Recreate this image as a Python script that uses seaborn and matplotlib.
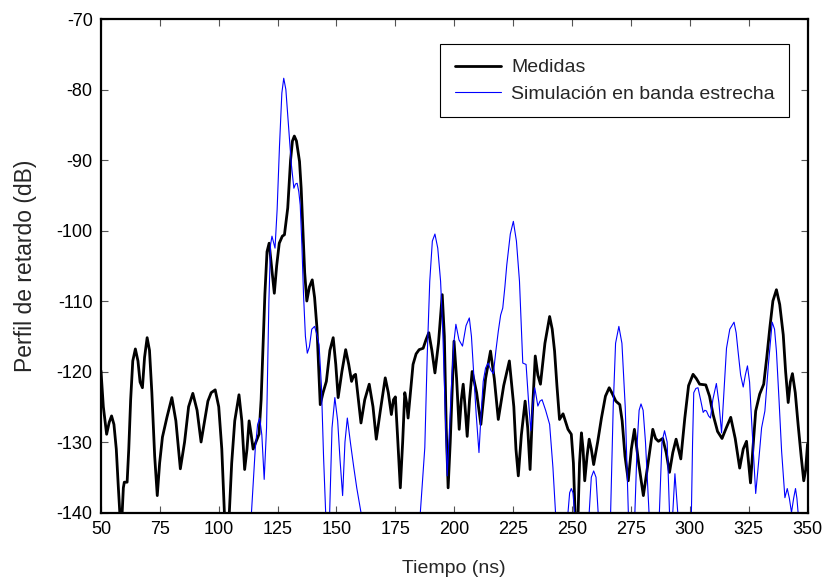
import numpy as np
import pandas as pd
import matplotlib
matplotlib.use("Agg")
import matplotlib.pyplot as plt
import seaborn as sns

# ---- data ----
t_medidas = [50, 51, 52.4, 53.5, 54.5, 55.5, 56.5, 57.3, 58.0, 58.5, 59.0, 59.5, 59.9, 61.1, 61.8, 62.6,
             63.5, 64.6, 65.7, 66.6, 67.6, 68.5, 69.6, 70.6, 71.6, 72.8, 73.9, 74.9, 76.1, 78, 80.1, 81.8,
             83.7, 85.5, 87.2, 89.0, 90.8, 92.5, 94, 95.4, 96.8, 98.5, 100, 101.3, 102.4, 103.5, 104.5,
             105.5, 106.8, 108.6, 109.8, 111, 112, 112.9, 113.8, 114.6, 115.8, 117.1, 118, 118.6, 119.6,
             120.5, 121.4, 122.4, 123.6, 124.6, 125.7, 127, 127.9, 129.3, 130.5, 131.3, 132.1, 133, 134.3,
             135, 135.7, 136.5, 137.4, 138.5, 139.7, 140.7, 141.7, 142.5, 143.1, 144.3, 145.7, 147.2, 148.6,
             149.7, 150.7, 152.3, 153.9, 155.2, 156.4, 157.3, 158.1, 159.3, 160.4, 162, 163.9, 165.5, 166.9,
             168.6, 170.7, 172, 173.3, 174.2, 175, 175.9, 177.1, 178.1, 179, 179.8, 180.4, 181.4, 182.5,
             183.8, 185.1, 186.8, 188, 189.2, 190.5, 191.8, 193.3, 194.9, 195.8, 196.6, 197.4, 198.3, 199.9,
             201, 202.1, 203, 203.8, 204.6, 205.5, 206.5, 207.6, 209.5, 211.3, 213.3, 215.4, 217, 218.7,
             221, 223.4, 225.3, 226.2, 227.2, 228.5, 230.1, 231.2, 232.2, 233.3, 234.4, 235.5, 236.6, 238.5,
             240.5, 241.6, 242.6, 243.6, 244.7, 246.2, 248.3, 249.7, 250.6, 251.3, 251.8, 252.6, 253.2, 254,
             254.7, 255.4, 256.4, 257.3, 258.2, 259.2, 260.9, 262.5, 264.2, 265.8, 267.2, 268.6, 270.3,
             271.3, 272.5, 273.9, 275.2, 276.5, 278.3, 280.3, 282.3, 284.3, 285.5, 286.7, 288.5, 290, 291.4,
             292.8, 294.2, 295.2, 296.2, 297.9, 299.5, 301.4, 302.8, 304.2, 306.8, 308.4, 309.9, 311.8,
             313.7, 315.5, 317.4, 319.3, 321.2, 322.7, 324.1, 325, 325.8, 326.8, 328, 329.7, 331.4, 332.7,
             334, 335.3, 336.8, 338.2, 339.7, 340.7, 341.8, 342.7, 343.6, 344.8, 346, 347.3, 348.4, 349.2, 350]
v_medidas = [-119.9, -125, -128.9, -127.2, -126.3, -127.5, -131, -136, -140, -143, -140, -136.5, -135.7, -135.7,
             -131, -124, -118.5, -116.8, -118.5, -121.5, -122.3, -118, -115.2, -117, -123, -132, -137.6, -133,
             -129.3, -126.5, -123.7, -127, -133.8, -130, -125, -123.1, -125.5, -130, -127, -124.2, -123,
             -122.6, -125, -131, -140, -145, -140, -133, -127, -123.3, -127, -133.9, -131, -127, -129, -131,
             -130, -128.9, -124, -118.5, -109, -103, -101.8, -105, -108.9, -105, -101.8, -100.8, -100.6,
             -96.8, -90, -87.3, -86.6, -87.3, -90.2, -94, -99.7, -106, -110.0, -108, -107.0, -109.5, -113.8,
             -120, -124.7, -123, -121.4, -117, -115.2, -119, -123.7, -120, -116.9, -119, -121.4, -120.6,
             -120.4, -124, -127.3, -124, -121.8, -125, -129.6, -125.6, -120.9, -123, -126.1, -124, -123.6,
             -129, -136.5, -130, -123, -124.5, -126.6, -123, -119, -117.5, -116.9, -116.7, -115.5, -114.5,
             -117, -120.2, -116, -109.1, -115, -128, -136.5, -130, -115.7, -121, -128.2, -124, -121.8, -125,
             -129.2, -124, -120, -123, -127.5, -121, -117.1, -121, -126.8, -122, -118.5, -125, -131, -134.8,
             -129, -124.2, -128, -133.9, -125, -117.8, -120.5, -121.8, -116, -112.2, -114, -117.1, -122,
             -126.8, -126, -128.2, -128.9, -133, -140, -143, -140, -133, -128.7, -131, -135.5, -132, -129.6,
             -131, -133.2, -130, -126.6, -123.5, -122.3, -123.2, -124.2, -124.7, -127, -132, -135.5, -131,
             -128.2, -133, -137.6, -133, -128.2, -129.5, -129.9, -129.5, -131.5, -134.3, -131.5, -129.6, -131,
             -132.4, -126.6, -122, -120.4, -121, -121.8, -121.9, -123.5, -126.1, -128.5, -129.5, -128, -126.5,
             -129.5, -133.7, -131, -129.9, -133, -135.8, -131, -125.6, -123.2, -121.8, -118, -113.8, -110,
             -108.4, -110.5, -114.8, -120, -124.4, -121.5, -120.3, -123, -127.5, -132, -135.5, -134, -130.3]

t_simulacion = [112.8, 113.9, 115.5, 116.5, 117.4, 118.3, 119.3, 120.3, 121.3, 122, 122.6, 123.2, 123.9, 124.8,
                125.8, 126.8, 127.6, 128.5, 129.7, 130.8, 131.9, 132.6, 133.3, 134, 134.6, 135.3, 136, 136.8,
                137.6, 138.5, 139.5, 140.7, 141.7, 142.6, 143.6, 144.5, 145.4, 146.2, 147.1, 148.1, 149.3,
                150.5, 151.5, 152.6, 153.6, 154.6, 155.3, 156, 157.3, 158.6, 160.4, 161.5, 184.5, 185.6, 187.5,
                188.5, 189.6, 190.7, 191.8, 193, 194.2, 195.1, 196, 197, 198, 198.9, 199.8, 200.7, 202, 203.5,
                205, 206.4, 207.3, 208.1, 209.3, 210.5, 211.4, 212.3, 213.3, 214.4, 215.5, 216.6, 217.7, 218.7,
                219.7, 220.6, 221.5, 222.3, 223.8, 225.1, 226.4, 227.7, 228.4, 229.1, 230.5, 231.5, 232.5,
                233.4, 234.2, 235.5, 236.4, 237.3, 238.8, 240.5, 241.9, 243, 244, 247.5, 248.3, 249, 249.7,
                250.4, 251.1, 252, 256.5, 257.3, 258.2, 259.2, 260.2, 261.1, 262, 265.5, 266.4, 267.5, 268.5,
                269.9, 271.2, 272.6, 273.9, 274.8, 276, 276.7, 277.7, 278.5, 279.3, 280.2, 281.2, 282.7, 283.5,
                286.4, 287.1, 288.2, 289.3, 290.4, 291.4, 292.1, 292.8, 293.7, 294.9, 295.8, 300, 300.7, 301.2,
                301.7, 302.6, 303.5, 304.6, 305.7, 306.4, 307.1, 308, 308.8, 309.8, 311.3, 312.4, 313.5, 314.5,
                315.6, 317, 318.8, 319.7, 320.5, 321.6, 322.7, 323.6, 324.5, 325.4, 326.2, 327.1, 328, 329.2,
                330.5, 331.9, 333.4, 335, 336, 336.8, 337.9, 339, 340.4, 341.4, 342.3, 343.2, 344.1, 344.9,
                345.5, 346, 347]
v_simulacion = [-150, -140, -131, -127.5, -126.6, -129, -135.3, -128, -110, -102, -100.8, -101.6, -102.5, -97,
                -88, -80.5, -78.4, -80, -85.5, -90.5, -94, -93.4, -93.3, -94.5, -96.4, -102, -109.1, -115,
                -117.4, -116.5, -114, -113.6, -114.8, -116.2, -122, -132, -140, -146, -140, -128, -123.7,
                -127, -132.5, -137.6, -130, -126.6, -128.5, -130.3, -133.5, -136.5, -140, -150, -150, -140,
                -130.8, -118, -107.2, -101.5, -100.5, -102.5, -107.2, -114, -123.7, -134.8, -128, -121.4,
                -116, -113.3, -115.5, -116.4, -113.5, -112.4, -115, -119.5, -126, -131.5, -126, -121.4,
                -119.5, -118.8, -119.8, -120.3, -117, -114.3, -112, -111, -108, -104.9, -100.5, -98.7,
                -101.5, -107.2, -113, -118.8, -119, -124, -128.4, -124.5, -122.3, -124.9, -124.2, -124,
                -125.5, -127.5, -133.6, -140, -150, -150, -140, -137.2, -136.6, -137.2, -140, -150, -150,
                -140, -135, -134.1, -135, -140, -150, -150, -140, -125, -116, -113.6, -116, -125, -140, -150,
                -150, -140, -130, -125.5, -124.6, -125.5, -130, -140, -150, -150, -140, -130, -128.4, -130,
                -140, -150, -140, -134.5, -140, -150, -150, -140, -130, -123, -122.4, -122.3, -124, -125.8,
                -125.5, -125.6, -126.3, -126.6, -124, -121.7, -124.5, -128.7, -123, -116.7, -114, -113,
                -114.5, -117.1, -120.5, -122.2, -120.5, -119.2, -121.5, -126.6, -132, -137.3, -133, -128,
                -125.6, -119, -113, -114, -117.1, -124, -131.3, -137.9, -136.6, -138, -140, -138, -136.6,
                -138, -140, -150]

x_ticks = [50, 75, 100, 125, 150, 175, 200, 225, 250, 275, 300, 325, 350]
y_ticks = [-140, -130, -120, -110, -100, -90, -80, -70]
label_medidas = "Medidas"
label_simulacion = "Simulación en banda estrecha"

df_m = pd.DataFrame({"t": t_medidas, "v": v_medidas})
df_s = pd.DataFrame({"t": t_simulacion, "v": v_simulacion})

sns.set_theme(style="ticks")
plt.rcParams["font.family"] = ["Liberation Sans", "DejaVu Sans"]
plt.rcParams["axes.unicode_minus"] = False

fig = plt.figure(figsize=(8.25, 5.87), dpi=100)
ax = fig.add_axes([0.1224, 0.1269, 0.8564, 0.8407])

sns.lineplot(data=df_m, x="t", y="v", ax=ax, color="black", linewidth=2.0,
             estimator=None, sort=False, label=label_medidas)
sns.lineplot(data=df_s, x="t", y="v", ax=ax, color="#0000ff", linewidth=0.8,
             estimator=None, sort=False, label=label_simulacion)

ax.set_xlim(50, 350)
ax.set_ylim(-140, -70)
ax.set_xticks(x_ticks)
ax.set_yticks(y_ticks)
ax.tick_params(direction="in", length=5, width=0.8, color="#555555", labelsize=13,
               top=True, right=True, labelcolor="black", pad=6)
for s in ax.spines.values():
    s.set_linewidth(1.6)
    s.set_color("black")
ax.set_xlabel("Tiempo (ns)", fontsize=14, labelpad=16)
ax.set_ylabel("Perfil de retardo (dB)", fontsize=16.5)
ax.yaxis.set_label_coords(-0.09, 0.5)
ax.grid(False)

leg = ax.legend(loc="upper left", bbox_to_anchor=(0.48, 0.949), fontsize=14,
                frameon=True, fancybox=False, framealpha=1, edgecolor="black",
                handlelength=2.4, borderpad=0.75, labelspacing=0.45, handletextpad=0.5,
                borderaxespad=0)
leg.get_frame().set_linewidth(0.8)

fig.savefig("out.png", dpi=100)
